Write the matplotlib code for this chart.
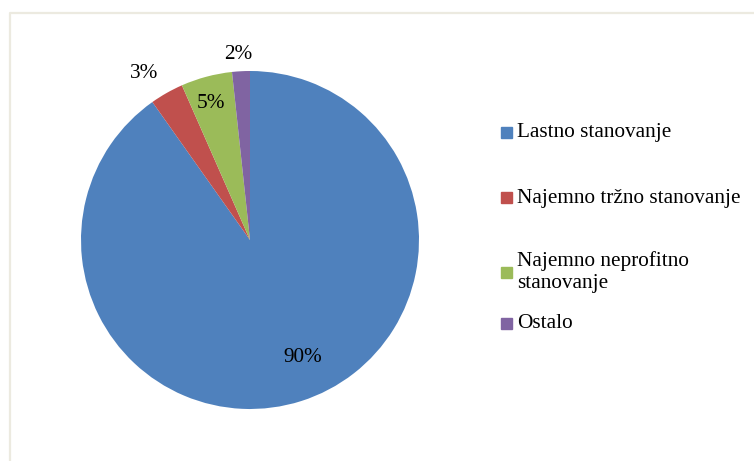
import numpy as np
import matplotlib.pyplot as plt
from matplotlib.lines import Line2D
from matplotlib.patches import Rectangle

plt.rcParams['font.family'] = ['Liberation Serif', 'DejaVu Serif']

# podatki
categories = ['Lastno stanovanje', 'Najemno tržno stanovanje',
              'Najemno neprofitno\nstanovanje', 'Ostalo']
shares = [90.2, 3.2, 4.9, 1.7]
pct_labels = ['90%', '3%', '5%', '2%']
colors = ['#4F81BD', '#C0504D', '#9BBB59', '#8064A2']
# polozaj oznak: razdalja od sredisca in zamik kota
label_r = [0.76, 1.17, 0.84, 1.10]
label_dang = [6.4, 3.0, 1.0, 0.7]

W, H = 754, 461
fig = plt.figure(figsize=(W / 100, H / 100), dpi=100)

# okvir grafa (odprt na desni in spodaj)
fig.add_artist(Line2D([10 / W, 10 / W, 1], [0, 1 - 13 / H, 1 - 13 / H],
                      transform=fig.transFigure, color='#ECEAE0', lw=1.6))

cx, cy, r = 250, 240, 169
ax = fig.add_axes([(cx - r) / W, (H - cy - r) / H, 2 * r / W, 2 * r / H])
wedges, _ = ax.pie(shares, colors=colors, startangle=90, counterclock=False,
                   wedgeprops=dict(linewidth=0))
ax.set_xlim(-1, 1)
ax.set_ylim(-1, 1)

for w, lab, rr, da in zip(wedges, pct_labels, label_r, label_dang):
    mid = np.deg2rad((w.theta1 + w.theta2) / 2 + da)
    ax.text(rr * np.cos(mid), rr * np.sin(mid), lab, ha='center', va='center',
            fontsize=15.3, color='black')

# legenda
leg_y = [133, 198, 272, 323]
for col, cat, y in zip(colors, categories, leg_y):
    fig.add_artist(Rectangle((501 / W, 1 - (y + 5.5) / H), 11 / W, 11 / H,
                             transform=fig.transFigure, color=col))
    fig.text(517 / W, 1 - y / H, cat, ha='left', va='center', fontsize=15.3,
             linespacing=1.25)

fig.savefig('out.png', dpi=100)
